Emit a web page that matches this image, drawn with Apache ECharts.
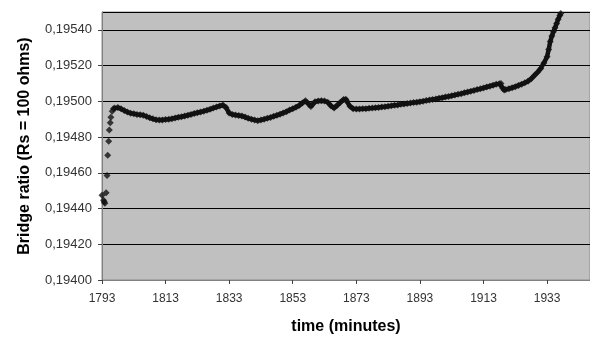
<!DOCTYPE html>
<html>
<head>
<meta charset="utf-8">
<script src="https://cdn.jsdelivr.net/npm/echarts@6/dist/echarts.min.js"></script>
<style>
    html, body {margin: 0; padding: 0; background: #fff;}
    #chart {width: 590px; height: 340px;}
</style>
</head>
<body>
<div id="chart"></div>
<script>
// time offset: x axis starts at 1793 min
const T0 = 1793;

// time (minutes)
const times = [
    1793.0, 1793.5, 1793.7, 1793.9, 1794.3, 1794.6, 1794.8, 1795.1, 1795.3, 1795.6, 1795.8, 1796.2, 1796.6,
    1797, 1798, 1799, 1800, 1801, 1802, 1803, 1804, 1805, 1806, 1807, 1808, 1809, 1810,
    1811, 1812, 1813, 1814, 1815, 1816, 1817, 1818, 1819, 1820, 1821, 1822, 1823, 1824,
    1825, 1826, 1827, 1828, 1829, 1830, 1831, 1832, 1833, 1834, 1835, 1836, 1837, 1838,
    1839, 1840, 1841, 1842, 1843, 1844, 1845, 1846, 1847, 1848, 1849, 1850, 1851, 1852,
    1853, 1854, 1855, 1856, 1857, 1858, 1858.7, 1859, 1860, 1861, 1862, 1863, 1864, 1865,
    1866, 1867, 1868, 1869, 1869.7, 1870, 1871, 1872, 1873, 1874, 1875, 1876, 1877, 1878,
    1879, 1880, 1881, 1882, 1883, 1884, 1885, 1886, 1887, 1888, 1889, 1890, 1891, 1892,
    1893, 1894, 1895, 1896, 1897, 1898, 1899, 1900, 1901, 1902, 1903, 1904, 1905, 1906,
    1907, 1908, 1909, 1910, 1911, 1912, 1913, 1914, 1915, 1916, 1917, 1918, 1918.5, 1919,
    1919.5, 1920, 1921, 1922, 1923, 1924, 1925, 1926, 1927, 1928, 1929, 1930, 1931, 1932,
    1933, 1933.5, 1934, 1934.5, 1935, 1935.5, 1936, 1936.5, 1937, 1937.3
];

// bridge ratio (Rs = 100 ohms)
const ratios = [
    0.194474, 0.194447, 0.194436, 0.194430, 0.194488, 0.194585, 0.194698, 0.194776, 0.194840, 0.194880, 0.194911, 0.194944, 0.194958,
    0.194962, 0.194965, 0.194958, 0.194948, 0.194940, 0.194934, 0.194930, 0.194927, 0.194925, 0.194922, 0.194915, 0.194908, 0.194902, 0.194897,
    0.194895, 0.194896, 0.194898, 0.194900, 0.194903, 0.194907, 0.194911, 0.194914, 0.194918, 0.194922, 0.194927, 0.194932, 0.194936, 0.194940,
    0.194945, 0.194950, 0.194955, 0.194962, 0.194968, 0.194974, 0.194979, 0.194965, 0.194935, 0.194926, 0.194923, 0.194921, 0.194918, 0.194912,
    0.194905, 0.194900, 0.194895, 0.194892, 0.194896, 0.194900, 0.194905, 0.194910, 0.194916, 0.194922, 0.194928, 0.194935, 0.194942, 0.194951,
    0.194959, 0.194967, 0.194977, 0.194990, 0.195003, 0.194985, 0.194971, 0.194980, 0.194997, 0.195002, 0.195003, 0.195002, 0.194995, 0.194975,
    0.194962, 0.194978, 0.194995, 0.195010, 0.195012, 0.195000, 0.194972, 0.194958, 0.194957, 0.194957, 0.194958, 0.194959, 0.194961, 0.194962,
    0.194964, 0.194966, 0.194968, 0.194970, 0.194973, 0.194975, 0.194978, 0.194980, 0.194983, 0.194985, 0.194988, 0.194990, 0.194993, 0.194995,
    0.194998, 0.195001, 0.195004, 0.195007, 0.195010, 0.195013, 0.195017, 0.195020, 0.195024, 0.195027, 0.195031, 0.195035, 0.195039, 0.195043,
    0.195048, 0.195052, 0.195057, 0.195061, 0.195066, 0.195070, 0.195075, 0.195080, 0.195085, 0.195090, 0.195095, 0.195099, 0.195100, 0.195075,
    0.195063, 0.195066, 0.195071, 0.195076, 0.195082, 0.195089, 0.195096, 0.195104, 0.195113, 0.195126, 0.195145, 0.195163, 0.195184, 0.195215,
    0.195250, 0.195290, 0.195335, 0.195365, 0.195390, 0.195412, 0.195435, 0.195460, 0.195480, 0.195492
];

const points = times.map((t, i) => [t - T0, ratios[i]]);
// the first few readings are scattered, the rest is a dense band
const bandStart = times.findIndex(t => t >= 1796.6);

const chart = echarts.init(document.getElementById('chart'));

chart.setOption({
    animation: false,
    grid: {
        left: 102,
        right: 0,
        top: 12,
        bottom: 54,
        show: true,
        backgroundColor: '#c0c0c0',
        borderColor: '#8c8c8c',
        borderWidth: 1
    },
    xAxis: {
        type: 'value',
        min: 0,
        max: 153.5,
        interval: 20,
        name: 'time (minutes)',
        nameLocation: 'middle',
        nameGap: 39,
        nameTextStyle: {fontFamily: 'Liberation Sans', fontSize: 16, fontWeight: 'bold', color: '#000'},
        axisLine: {show: true, lineStyle: {color: '#808080'}},
        axisTick: {show: true, length: 4, lineStyle: {color: '#404040'}},
        axisLabel: {
            margin: 13,
            showMaxLabel: false,
            fontFamily: 'Liberation Sans',
            fontSize: 12,
            color: '#333',
            formatter: v => (v % 20 === 0 ? String(v + T0) : '')
        },
        splitLine: {show: false}
    },
    yAxis: {
        type: 'value',
        min: 0.194,
        max: 0.1955,
        interval: 0.0002,
        name: 'Bridge ratio (Rs = 100 ohms)',
        nameLocation: 'middle',
        nameGap: 69,
        nameTextStyle: {fontFamily: 'Liberation Sans', fontSize: 16, fontWeight: 'bold', color: '#000'},
        axisLine: {show: true, lineStyle: {color: '#808080'}},
        axisTick: {show: true, length: 4, lineStyle: {color: '#404040'}},
        axisLabel: {
            margin: 10,
            showMaxLabel: false,
            fontFamily: 'Liberation Sans',
            fontSize: 13,
            color: '#333',
            formatter: v => v.toFixed(5).replace('.', ',')
        },
        splitLine: {show: true, lineStyle: {color: '#000', width: 1}}
    },
    series: [
        {
            type: 'line',
            data: points.slice(bandStart),
            showSymbol: false,
            symbol: 'none',
            lineStyle: {color: '#111', width: 4.5},
            z: 2
        },
        {
            type: 'scatter',
            data: points,
            symbol: 'diamond',
            symbolSize: 7,
            itemStyle: {color: '#111'},
            z: 3
        }
    ]
});
</script>
</body>
</html>
